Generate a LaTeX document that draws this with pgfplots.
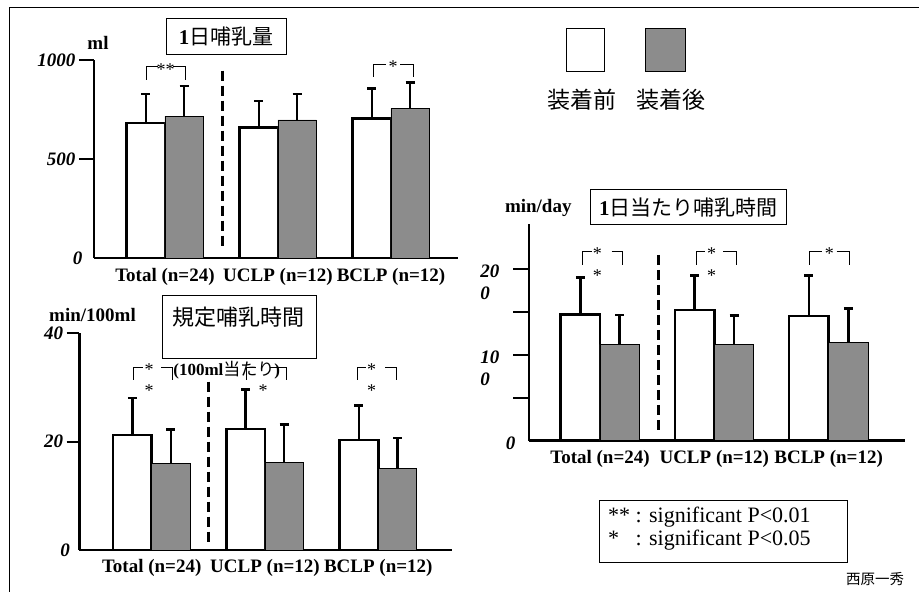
\documentclass[border=0pt]{standalone}
\usepackage{pgfplots}
\pgfplotsset{compat=1.18}
\usepackage{fontspec}
\setmainfont{Liberation Serif}
\newfontfamily\cjk{Noto Sans CJK JP}
\newcommand\fs[1]{\fontsize{#1}{#1}\selectfont}
\definecolor{barg}{gray}{0.55}

\pgfplotsset{
  myax/.style={
    scale only axis, axis lines=left, axis line style={-, line width=2.5pt},
    xtick={0,1,2}, xticklabels={Total (n=24), UCLP (n=12), BCLP (n=12)},
    xtick style={draw=none},
    yticklabel style={font=\fs{19}\bfseries\itshape},
    tick align=outside, ytick style={line width=2pt, black},
    ymin=0, clip=false,
  },
  errs/.style={
    error bars/y dir=plus, error bars/y explicit,
    error bars/error mark=-,
    error bars/error bar style={line width=2.5pt, black},
    error bars/error mark options={rotate=90, line width=2.5pt, mark size=4.5pt, black}},
  wbar/.style={ybar, bar shift=0, fill=white, draw=black, line width=2.5pt, errs},
  gbar/.style={ybar, bar shift=0, fill=barg, draw=black, line width=0.8pt, errs},
}

\begin{document}
\begin{tikzpicture}[x=1pt,y=1pt]
\path[use as bounding box] (0,0) rectangle (919,592);
% frame
\draw[line width=1.5pt] (9.5,0) -- (9.5,584.5) -- (919,584.5);

% ---------- Panel 1: 1日哺乳量 ----------
\begin{axis}[myax, at={(94pt,334pt)}, anchor=south west,
  width=364pt, height=198pt, xmin=-0.628, xmax=2.593, ymax=1000,
  xticklabel style={font=\fs{19}\bfseries, yshift=8pt},
  ytick={500,1000}, yticklabels={500,1000}, major tick length=15pt,
  extra y ticks={0}, extra y tick labels={0},
  extra y tick style={major tick length=0pt, yticklabel style={xshift=-8pt}}]
\addplot[wbar, bar width=0.34] coordinates
  {(-0.17,683) +- (0,144) (0.83,660) +- (0,134) (1.83,705) +- (0,152)};
\addplot[gbar, bar width=0.34] coordinates
  {(0.17,716) +- (0,153) (1.17,697) +- (0,131) (2.17,756) +- (0,130)};
\end{axis}

% ---------- Panel 2: 規定哺乳時間 ----------
\begin{axis}[myax, at={(79.3pt,42pt)}, anchor=south west,
  width=372.7pt, height=216.7pt, xmin=-0.639, xmax=2.651, ymax=40,
  xticklabel style={font=\fs{19}\bfseries, yshift=7pt},
  ytick={20,40}, yticklabels={20,40}, major tick length=12.6pt,
  extra y ticks={0}, extra y tick labels={0},
  extra y tick style={major tick length=0pt, yticklabel style={xshift=-6pt}}]
\addplot[wbar, bar width=0.34] coordinates
  {(-0.17,21.2) +- (0,6.9) (0.83,22.3) +- (0,7.3) (1.83,20.3) +- (0,6.4)};
\addplot[gbar, bar width=0.34] coordinates
  {(0.17,15.9) +- (0,6.3) (1.17,16.2) +- (0,7.0) (2.17,15.0) +- (0,5.7)};
\end{axis}

% ---------- Panel 3: 1日当たり哺乳時間 ----------
\begin{axis}[myax, at={(529pt,151.3pt)}, anchor=south west,
  width=376pt, height=216.4pt, xmin=-0.621, xmax=2.668, ymax=252.5,
  xticklabel style={font=\fs{19}\bfseries, yshift=10pt},
  ytick={50,100,150,200}, major tick length=16pt,
  yticklabels={,{\begin{tabular}[t]{@{}l@{}}10\\0\end{tabular}},,{\begin{tabular}[t]{@{}l@{}}20\\0\end{tabular}}},
  yticklabel style={font=\fontsize{19}{22}\selectfont\bfseries\itshape, anchor=base east, yshift=-8.7pt, xshift=-10pt},
  extra y ticks={0}, extra y tick labels={0},
  extra y tick style={major tick length=0pt}]
\addplot[wbar, bar width=0.345] coordinates
  {(-0.1725,147.5) +- (0,42.7) (0.8275,152.5) +- (0,40.5) (1.8275,145.5) +- (0,47.1)};
\addplot[gbar, bar width=0.345] coordinates
  {(0.1725,112.5) +- (0,34.2) (1.1725,112.8) +- (0,33.1) (2.1725,114.8) +- (0,39.2)};
\end{axis}

% ---------- annotations ----------
\tikzset{dsep/.style={line width=2.5pt, dash pattern=on 10pt off 5pt},
  brk/.style={line width=0.9pt}, ast/.style={font=\fs{18}, inner sep=0pt}}
% separators
\draw[dsep] (222.7,521.3) -- (222.7,344);
\draw[dsep] (208.7,210.3) -- (208.7,50.3);
\draw[dsep] (658.3,337) -- (658.3,160.3);

% panel 1 titles
\draw[line width=1pt] (166,537) rectangle (286,573);
\node[font=\fs{21}] at (226,555) {\textbf{1}\cjk 日哺乳量};
\node[font=\fs{19}\bfseries] at (98,549) {ml};
% panel 1 brackets
\draw[brk] (146,512) -- (146,525.3) -- (158,525.3);
\draw[brk] (173,525.3) -- (185,525.3) -- (185,512);
\node[ast] at (165.5,522.5) {**};
\draw[brk] (373,515) -- (373,528) -- (386,528);
\draw[brk] (400,528) -- (413,528) -- (413,515);
\node[ast] at (393,525.5) {*};

% panel 2 titles
\draw[line width=1pt] (162.7,233) rectangle (316.7,296.3);
\node[font=\fs{22}\cjk] at (238.5,275.3) {規定哺乳時間};
\node[font=\fs{17}\bfseries] at (226.7,222) {(100ml{\cjk\mdseries 当たり})};
\node[font=\fs{19}\bfseries] at (92.5,277) {min/100ml};
% panel 2 brackets
\draw[brk] (133.3,212) -- (133.3,224.7) -- (143.3,224.7);
\draw[brk] (161,224.7) -- (172.7,224.7) -- (172.7,212);
\node[ast] at (149,222) {*};
\node[ast] at (149,201.5) {*};
\draw[brk] (246.7,212) -- (246.7,224.7) -- (256,224.7);
\draw[brk] (270,224.7) -- (286,224.7) -- (286,212);
\node[ast] at (263,201.5) {*};
\draw[brk] (357.3,212) -- (357.3,224.7) -- (366,224.7);
\draw[brk] (385,224.7) -- (396.7,224.7) -- (396.7,212);
\node[ast] at (371.7,222) {*};
\node[ast] at (371.7,201.5) {*};

% panel 3 titles
\draw[line width=1pt] (590,367) rectangle (786.7,402);
\node[font=\fs{21}] at (688.3,384.5) {\textbf{1}\cjk 日当たり哺乳時間};
\node[font=\fs{19}\bfseries] at (538.3,383.7) {min/day};
% panel 3 brackets
\draw[brk] (582.7,327) -- (582.7,341) -- (592,341);
\draw[brk] (611.7,341) -- (622.7,341) -- (622.7,327);
\node[ast] at (597.3,338.5) {*};
\node[ast] at (597.3,316) {*};
\draw[brk] (696,327) -- (696,341) -- (705,341);
\draw[brk] (723.3,341) -- (736,341) -- (736,327);
\node[ast] at (711.7,338.5) {*};
\node[ast] at (711.7,316) {*};
\draw[brk] (809.3,327) -- (809.3,341) -- (822,341);
\draw[brk] (836.7,341) -- (849,341) -- (849,327);
\node[ast] at (829.3,338.5) {*};

% legend
\draw[line width=1pt, fill=white] (566,520.3) rectangle (604.3,563.7);
\draw[line width=0.8pt, fill=barg] (645.7,520.3) rectangle (685,563.7);
\node[font=\fs{23}\cjk] at (582,492) {装着前};
\node[font=\fs{23}\cjk] at (671.3,492) {装着後};

% significance box
\draw[line width=1pt] (599.3,29.7) rectangle (847.3,91.3);
\node[anchor=west, font=\fs{22}, inner sep=0pt, align=left] at (608,62.8)
  {\begin{tabular}{@{}l@{\ }l@{}}** & : significant P\textless 0.01\\[1pt]* & : significant P\textless 0.05\end{tabular}};
\node[font=\fs{14.5}\cjk] at (875,13) {西原一秀};
\end{tikzpicture}
\end{document}
